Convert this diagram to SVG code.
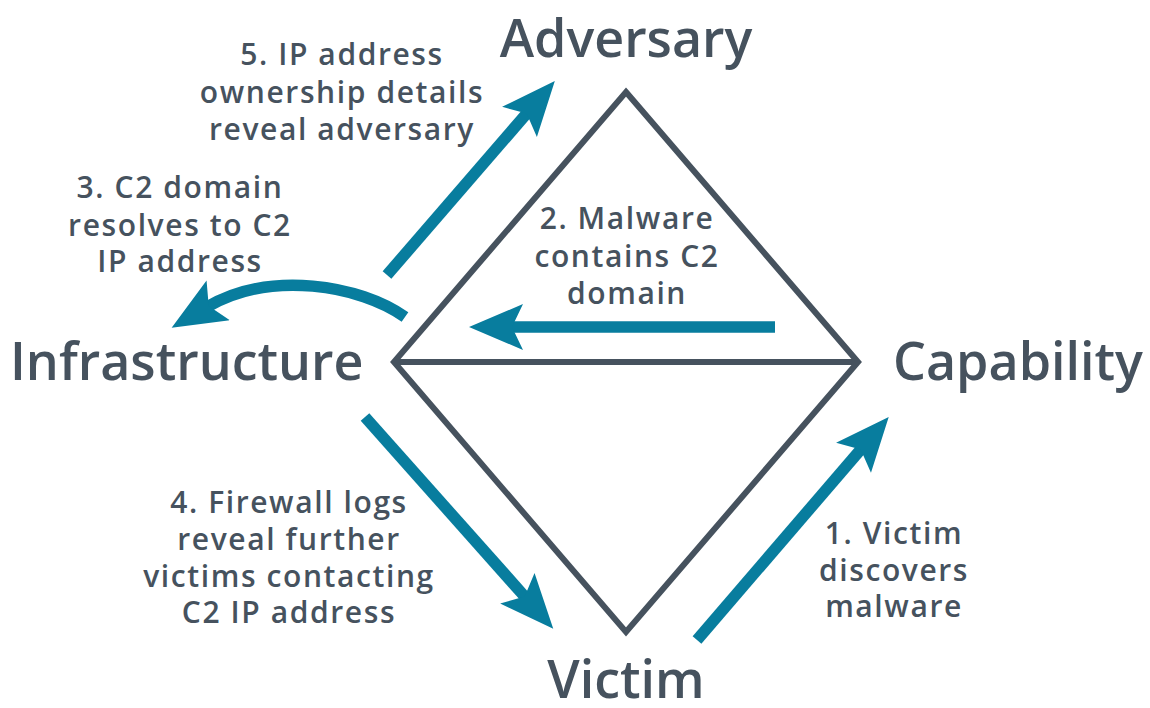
<svg xmlns="http://www.w3.org/2000/svg" width="1150" height="708" viewBox="0 0 1150 708">
<defs>
<style>
.title{font-family:"Open Sans","Liberation Sans",sans-serif;font-weight:600;font-size:52px;fill:#46525e;}
.lbl{font-family:"Open Sans","Liberation Sans",sans-serif;font-weight:600;font-size:30px;letter-spacing:1.6px;fill:#46525e;text-anchor:middle;}
.dia{fill:none;stroke:#46525e;stroke-width:6;stroke-linejoin:miter;}
.arr{fill:none;stroke:#087d9e;stroke-width:11.5;marker-end:url(#ah);}
</style>
<marker id="ah" markerUnits="userSpaceOnUse" markerWidth="60" markerHeight="50" viewBox="0 0 60 50" refX="15" refY="23" orient="auto">
<path d="M56,23 L2,0 L13,23 L2,46 Z" fill="#087d9e"/>
</marker>
</defs>
<rect width="1150" height="708" fill="#ffffff"/>
<g id="diamond">
<path class="dia" d="M626,92 L858,362 L626,632 L394,362 Z M394,362 L858,362"/>
</g>
<g id="node-adversary"><text class="title" x="626" y="57" text-anchor="middle">Adversary</text></g>
<g id="node-infrastructure"><text class="title" x="10" y="380">Infrastructure</text></g>
<g id="node-capability"><text class="title" x="893" y="380">Capability</text></g>
<g id="node-victim"><text class="title" x="626" y="698" text-anchor="middle">Victim</text></g>
<g id="connectors">
<line class="arr" x1="697" y1="640" x2="862" y2="448"/>
<line class="arr" x1="775" y1="327" x2="510" y2="327"/>
<path class="arr" d="M405,317 C360,285 270,270 207,307"/>
<line class="arr" x1="365" y1="417" x2="526" y2="598"/>
<line class="arr" x1="387" y1="275" x2="528" y2="112"/>
</g>
<g id="labels">
<text class="lbl"><tspan x="894" y="544">1. Victim</tspan><tspan x="894" y="581">discovers</tspan><tspan x="894" y="617">malware</tspan></text>
<text class="lbl"><tspan x="627" y="229">2. Malware</tspan><tspan x="627" y="267">contains C2</tspan><tspan x="627" y="304">domain</tspan></text>
<text class="lbl"><tspan x="180" y="198">3. C2 domain</tspan><tspan x="180" y="236">resolves to C2</tspan><tspan x="180" y="272">IP address</tspan></text>
<text class="lbl"><tspan x="289" y="513">4. Firewall logs</tspan><tspan x="289" y="550">reveal further</tspan><tspan x="289" y="587">victims contacting</tspan><tspan x="289" y="623">C2 IP address</tspan></text>
<text class="lbl"><tspan x="342" y="65">5. IP address</tspan><tspan x="342" y="103">ownership details</tspan><tspan x="342" y="140">reveal adversary</tspan></text>
</g>
</svg>
